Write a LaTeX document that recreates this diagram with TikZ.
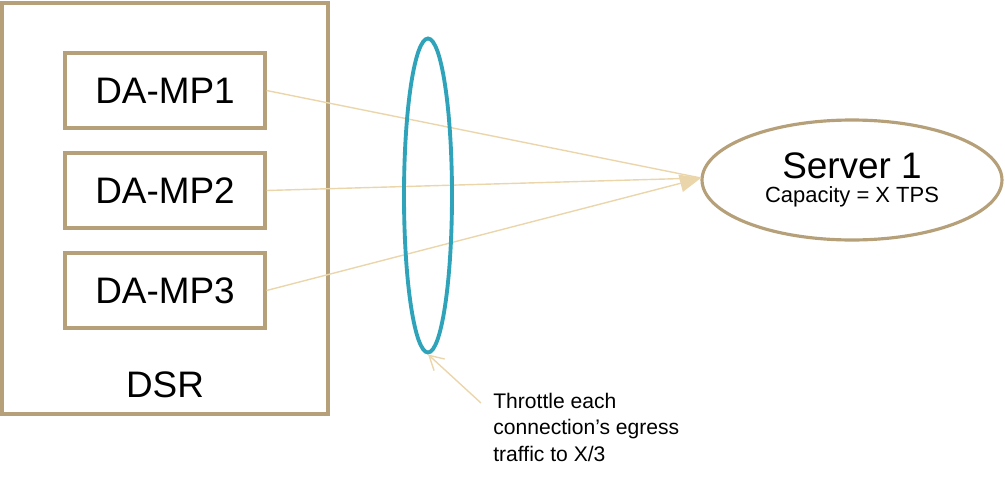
\documentclass[tikz,border=0pt]{standalone}
\usepackage{fontspec}
\setmainfont{Liberation Sans}
\usetikzlibrary{arrows.meta, positioning, shapes.geometric}
\definecolor{tan}{HTML}{B5A07A}
\definecolor{linktan}{HTML}{EBD6AC}
\definecolor{teal}{HTML}{2FA3BA}

\begin{document}
\begin{tikzpicture}[
    x=0.02cm, y=-0.02cm,
    mpbox/.style={draw=tan, line width=1.8pt, minimum width=4cm, minimum height=1.5cm, font=\fontsize{21}{25}\selectfont},
    link/.style={draw=linktan, line width=0.8pt},
    tip/.style={-{Triangle[length=12pt, width=10pt]}}
  ]
    \useasboundingbox (0,0) rectangle (1005,477);
    % DSR frame
    \node[draw=tan, line width=1.8pt, minimum width=6.52cm, minimum height=8.22cm] (dsr) at (165,208.5) {};
    \node[font=\fontsize{21}{25}\selectfont] (dsrlabel) at (165,385) {DSR};

    % DA-MPs
    \node[mpbox] (mp1) at (165,90.5) {DA-MP1};
    \node[mpbox] (mp2) at (165,190.5) {DA-MP2};
    \node[mpbox] (mp3) at (165,290.5) {DA-MP3};

    % Server
    \node[ellipse, draw=tan, line width=1.8pt, minimum width=6cm, minimum height=2.4cm, align=center] (server) at (852,180)
      {{\fontsize{21}{25}\selectfont Server 1}\\[2pt]{\fontsize{12.5}{15}\selectfont Capacity = X TPS}};
    \coordinate (hit) at (701,178);

    % Connections
    \draw[link] (mp1.east) -- (hit);
    \draw[link] (mp2.east) -- (hit);
    \draw[link, tip, fill=linktan] (mp3.east) -- (hit);

    % Throttle ring
    \node[ellipse, draw=teal, line width=2.2pt, minimum width=0.96cm, minimum height=6.28cm, inner sep=0pt] (ring) at (428,195.5) {};

    % Note
    \node[anchor=north west, align=left, font=\fontsize{12}{15}\selectfont, inner sep=0pt] (note) at (493,393)
      {Throttle each\\connection’s egress\\traffic to X/3};
    \coordinate (notetail) at (481,403);
    \draw[link, -{Straight Barb[length=8pt, width=9pt]}] (notetail) -- (ring.south);
\end{tikzpicture}
\end{document}
